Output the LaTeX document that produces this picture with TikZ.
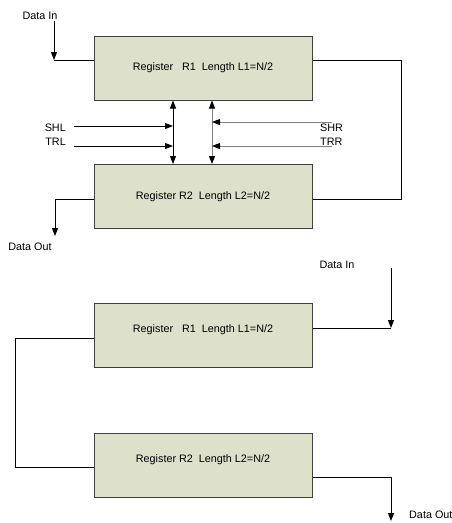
\documentclass[tikz,border=0pt]{standalone}
\usepackage{fontspec}
\setmainfont{Liberation Sans}
\usepackage{xcolor}
\usetikzlibrary{arrows.meta, positioning, calc}

\definecolor{regfill}{HTML}{DDE0CB}
\definecolor{regline}{HTML}{404040}

\begin{document}
\begin{tikzpicture}[
  x=1pt, y=-1pt,
  reg/.style={draw=regline, fill=regfill, line width=1pt, minimum width=218pt,
              minimum height=64pt, font=\fontsize{10.8}{13}\selectfont},
  lbl/.style={font=\fontsize{10.8}{13}\selectfont, inner sep=1pt},
  wire/.style={line width=1pt},
  arr/.style={wire, -{Triangle[length=8pt, width=6pt, color=black]}},
  bus/.style={wire, {Triangle[length=8pt, width=6pt, color=black]}-{Triangle[length=8pt, width=6pt, color=black]}}
]
\useasboundingbox (0,0) rectangle (452,523);

% first arrangement: two halves with shift/transfer lines
\node[reg] (r1) at (203,68)    {Register \ \ R1 \ Length L1=N/2};
\node[reg] (r2) at (203,196.5) {Register R2 \ Length L2=N/2};

\node[lbl] (din)  at (40,16)  {Data In};
\node[lbl] (dout) at (30,247) {Data Out};
\coordinate (dinTop)   at (54,21);
\coordinate (dinBend)  at (54,60);
\coordinate (doutTip)  at (55,236);
\coordinate (loopR)    at (401,60);

\draw[arr]  (dinTop) -- (dinBend);
\draw[wire] (dinBend) -- (r1.west |- dinBend);
\draw[wire] (r1.east |- loopR) -- (loopR) |- (r2.east |- 0,199);
\draw[arr]  (r2.west |- 0,199) -| (doutTip);

% transfer buses between the halves
\draw[bus] (r1.south -| 173,0) -- (r2.north -| 173,0);
\draw[bus, gray] (r1.south -| 212,0) -- (r2.north -| 212,0);

\node[lbl, anchor=east] (shl) at (67,128) {SHL};
\node[lbl, anchor=east] (trl) at (67,142) {TRL};
\node[lbl, anchor=west] (shr) at (319,128) {SHR};
\node[lbl, anchor=west] (trr) at (319,142) {TRR};

\coordinate (shlFrom) at (74,126);
\coordinate (trlFrom) at (74,146);
\coordinate (shrFrom) at (332,122);
\coordinate (trrFrom) at (332,146);

\draw[arr] (shlFrom) -- (shlFrom -| 173,0);
\draw[arr] (trlFrom) -- (trlFrom -| 173,0);
\draw[arr, gray] (shrFrom) -- (shrFrom -| 212,0);
\draw[arr, gray] (trrFrom) -- (trrFrom -| 212,0);

% second arrangement: halves chained in series
\node[reg] (s1) at (203,335) [text depth=12pt] {Register \ \ R1 \ Length L1=N/2};
\node[reg] (s2) at (203,465) [text depth=12pt] {Register R2 \ Length L2=N/2};

\node[lbl] (din2)  at (337,265) {Data In};
\node[lbl, anchor=west] (dout2) at (408,515) {Data Out};
\coordinate (din2Top)  at (391,268);
\coordinate (din2Bend) at (391,328);
\coordinate (loopL)    at (15,338);
\coordinate (dout2Tip) at (391,521);

\draw[arr]  (din2Top) -- (din2Bend);
\draw[wire] (din2Bend) -- (s1.east |- din2Bend);
\draw[wire] (s1.west |- loopL) -- (loopL) |- (s2.west |- 0,467);
\draw[arr]  (s2.east |- 0,477) -| (dout2Tip);
\end{tikzpicture}
\end{document}
